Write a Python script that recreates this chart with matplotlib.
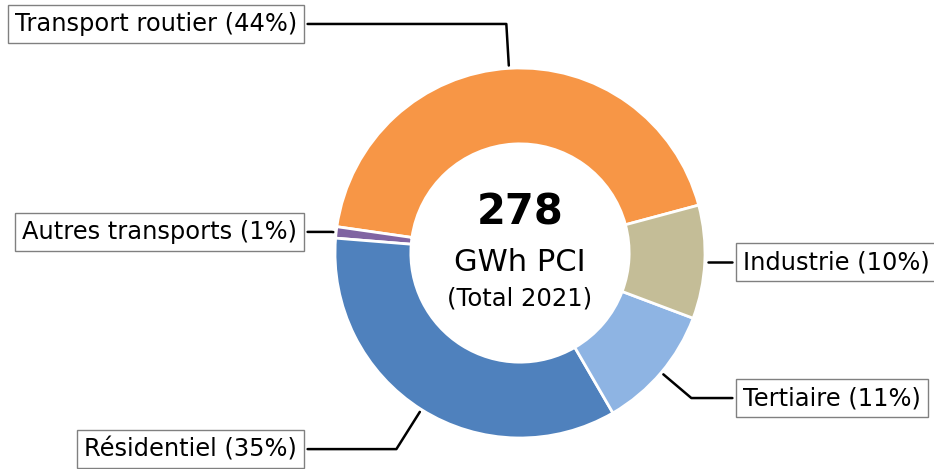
import numpy as np
import matplotlib.pyplot as plt

# donnees (parts en %)
secteurs = ['Transport routier', 'Autres transports', 'Résidentiel', 'Tertiaire', 'Industrie']
parts = [44, 1, 35, 11, 10]
couleurs = ['#f79646', '#8064a2', '#4f81bd', '#8eb4e3', '#c4bd97']
total_gwh = 278
annee = 2021

# position verticale des etiquettes
label_y = [1.238, 0.114, -1.06, -0.784, -0.049]

fig = plt.figure(figsize=(9.34, 4.69), dpi=100)
ax = fig.add_axes([0, 0, 1, 1])

wedges, _ = ax.pie(parts, colors=couleurs, startangle=15, counterclock=True,
                   radius=1, wedgeprops=dict(width=0.41, edgecolor='white', linewidth=2))

bbox_props = dict(boxstyle="square,pad=0.3", fc="white", ec="#808080", lw=1)
kw = dict(arrowprops=dict(arrowstyle="-", lw=1.8, color='black'),
          bbox=bbox_props, zorder=0, va="center", fontsize=17.4)

for i, p in enumerate(wedges):
    ang = (p.theta2 - p.theta1) / 2. + p.theta1
    y = np.sin(np.deg2rad(ang))
    x = np.cos(np.deg2rad(ang))
    ha = {-1: "right", 1: "left"}[int(np.sign(x))]
    kw["arrowprops"].update({"connectionstyle": f"angle,angleA=0,angleB={ang}"})
    ax.annotate(f"{secteurs[i]} ({parts[i]}%)", xy=(x, y),
                xytext=(1.205 * np.sign(x), label_y[i]),
                horizontalalignment=ha, **kw)

# texte central
ax.text(0, 0.22, f"{total_gwh}", ha='center', va='center', fontsize=30, fontweight='bold')
ax.text(0, -0.05, "GWh PCI", ha='center', va='center', fontsize=22)
ax.text(0, -0.245, f"(Total {annee})", ha='center', va='center', fontsize=17.5)

ax.set_aspect('auto')
ax.set_xlim(-520 / 185, (934 - 520) / 185)
ax.set_ylim(-(469 - 253) / 185, 253 / 185)
ax.axis('off')

plt.savefig("out.png", dpi=100)
